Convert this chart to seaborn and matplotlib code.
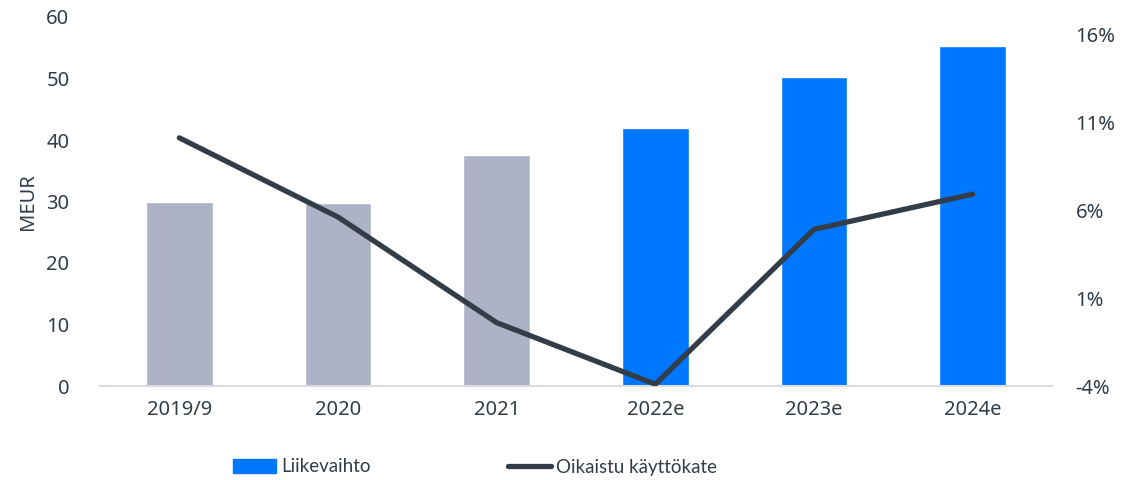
import numpy as np
import matplotlib
matplotlib.use("Agg")
import matplotlib.pyplot as plt
import seaborn as sns
from matplotlib.patches import Patch
from matplotlib.lines import Line2D

# data
categories = ["2019/9", "2020", "2021", "2022e", "2023e", "2024e"]
liikevaihto = [29.9, 29.7, 37.5, 41.9, 50.2, 55.3]
kayttokate = [10.1, 5.6, -0.4, -3.9, 4.9, 6.9]
left_ticks = [0, 10, 20, 30, 40, 50, 60]
right_ticks = [-4, 1, 6, 11, 16]

sns.set_style("white")
plt.rcParams["font.family"] = ["Noto Sans", "DejaVu Sans"]
txt = "#333d47"
fs = 14.5
bar_colors = ["#adb3c5", "#adb3c5", "#adb3c5", "#0077ff", "#0077ff", "#0077ff"]

fig = plt.figure(figsize=(11.3, 4.8), dpi=100)
ax = fig.add_axes([100 / 1130, 1 - 386 / 480, 952 / 1130, 369 / 480])

sns.barplot(x=categories, y=liikevaihto, hue=categories, palette=bar_colors,
            width=0.42, legend=False, ax=ax, saturation=1)
ax.set_ylim(0, 60)
ax.set_xlim(-0.5, len(categories) - 0.5)
ax.set_yticks(left_ticks)
ax.set_ylabel("MEUR", fontsize=fs, color=txt, labelpad=6)

ax2 = ax.twinx()
sns.lineplot(x=range(len(categories)), y=kayttokate, color="#333d47", lw=3.8,
             solid_capstyle="round", ax=ax2)
ax2.set_ylim(-4, -4 + 369 / 17.6)
ax2.set_yticks(right_ticks)
ax2.set_yticklabels([f"{t}%" for t in right_ticks])

for a in (ax, ax2):
    for s in a.spines.values():
        s.set_visible(False)
    a.tick_params(axis="y", length=0, labelsize=fs, labelcolor=txt)
ax.tick_params(axis="y", pad=22)
ax2.tick_params(axis="y", pad=17)
ax.spines["bottom"].set_visible(True)
ax.spines["bottom"].set_color("#d9dde3")
ax.spines["bottom"].set_linewidth(1.5)
ax.set_xticks(range(len(categories)))
ax.set_xticklabels(categories)
ax.set_xticks(np.arange(-0.5, len(categories)), minor=True)
ax.tick_params(axis="x", which="major", length=0, labelsize=fs, labelcolor=txt, pad=10)
ax.tick_params(axis="x", which="minor", length=6, width=1.5, color="#d9dde3")

handles = [Patch(color="#0077ff", label="Liikevaihto"),
           Line2D([0], [0], color="#333d47", lw=3.8, solid_capstyle="round",
                  label="Oikaistu käyttökate")]
leg = fig.legend(handles=handles, loc="center", bbox_to_anchor=(475 / 1130, 1 - 467 / 480),
                 ncol=2, frameon=False, handlelength=2.3, handleheight=0.75,
                 handletextpad=0.28, columnspacing=7.3,
                 prop={"family": ["Lato", "DejaVu Sans"], "size": 13.5})
for t in leg.get_texts():
    t.set_color(txt)

fig.savefig("out.png", dpi=100)
